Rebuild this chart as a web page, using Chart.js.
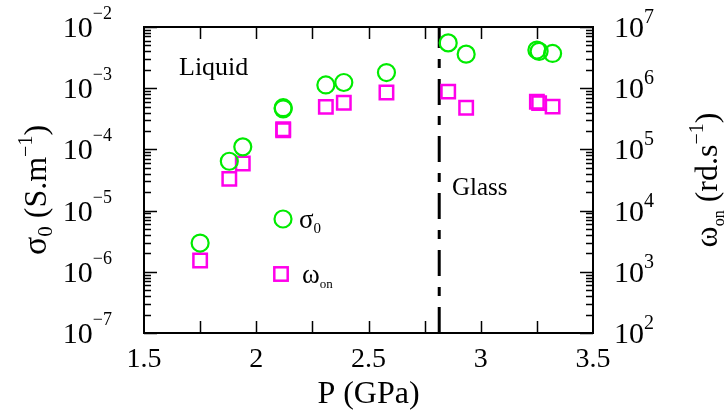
<!DOCTYPE html>
<html><head><meta charset="utf-8">
<script src="https://cdn.jsdelivr.net/npm/chart.js@4/dist/chart.umd.min.js"></script>
<style>html,body{margin:0;padding:0;background:#fff}#wrap{width:726px;height:412px;position:relative}</style>
</head><body><div id="wrap"><canvas id="c"></canvas></div>
<script>
// ---- data ----
const pressure = [1.75, 1.88, 1.94, 2.12, 2.12, 2.31, 2.39, 2.58, 2.855, 2.935, 3.25, 3.26, 3.32];
const sigma0   = [2.95e-6, 6.4e-5, 1.1e-4, 4.8e-4, 4.6e-4, 1.13e-3, 1.24e-3, 1.8e-3, 5.5e-3, 3.6e-3, 4.2e-3, 4.0e-3, 3.7e-3];
const omegaOn  = [1.53e3, 3.3e4, 5.9e4, 2.13e5, 2.05e5, 4.95e5, 5.8e5, 8.5e5, 8.8e5, 4.8e5, 6.0e5, 5.7e5, 5.0e5];
const transitionP = 2.815;
const xTickValues = [1.5, 2, 2.5, 3, 3.5];
const xTickLabels = ['1.5', '2', '2.5', '3', '3.5'];
const leftExponents = [-7, -6, -5, -4, -3, -2];
const rightExponents = [2, 3, 4, 5, 6, 7];

const GREEN = 'rgb(0,235,0)';
const MAGENTA = 'rgb(255,0,235)';
const SERIF = '"Liberation Serif", "DejaVu Serif", serif';

function runsWidth(ctx, runs) {
  let w = 0;
  for (const r of runs) { ctx.font = r.font; w += ctx.measureText(r.t).width; }
  return w;
}
function drawRuns(ctx, runs, x, y) {
  let cx = x;
  for (const r of runs) {
    ctx.font = r.font;
    ctx.fillText(r.t, cx, y + (r.dy || 0));
    cx += ctx.measureText(r.t).width;
  }
}

const decor = {
  id: 'decor',
  afterDraw(chart) {
    const ctx = chart.ctx;
    const a = chart.chartArea;
    const xs = chart.scales.x, ys = chart.scales.y, y2 = chart.scales.y2;
    ctx.save();
    ctx.strokeStyle = '#000';
    ctx.fillStyle = '#000';
    // frame
    ctx.lineWidth = 2;
    ctx.strokeRect(a.left, a.top, a.right - a.left, a.bottom - a.top);
    // x ticks every 0.25
    ctx.lineWidth = 1.5;
    ctx.beginPath();
    for (let v = 1.75; v < 3.5; v += 0.25) {
      const px = Math.round(xs.getPixelForValue(v)) + 0.5;
      ctx.moveTo(px, a.bottom); ctx.lineTo(px, a.bottom - 12);
      ctx.moveTo(px, a.top); ctx.lineTo(px, a.top + 12);
    }
    // y ticks (left)
    for (const e of leftExponents) {
      const py = Math.round(ys.getPixelForValue(Math.pow(10, e))) + 0.5;
      ctx.moveTo(a.left, py); ctx.lineTo(a.left + 13, py);
      if (e < leftExponents[leftExponents.length - 1]) {
        for (let k = 2; k <= 9; k++) {
          const pm = Math.round(ys.getPixelForValue(k * Math.pow(10, e))) + 0.5;
          ctx.moveTo(a.left, pm); ctx.lineTo(a.left + 7, pm);
        }
      }
    }
    // y2 ticks (right)
    for (const e of rightExponents) {
      const py = Math.round(y2.getPixelForValue(Math.pow(10, e))) + 0.5;
      ctx.moveTo(a.right, py); ctx.lineTo(a.right - 13, py);
      if (e < rightExponents[rightExponents.length - 1]) {
        for (let k = 2; k <= 9; k++) {
          const pm = Math.round(y2.getPixelForValue(k * Math.pow(10, e))) + 0.5;
          ctx.moveTo(a.right, pm); ctx.lineTo(a.right - 7, pm);
        }
      }
    }
    ctx.stroke();

    // x tick labels
    ctx.textBaseline = 'alphabetic';
    ctx.textAlign = 'center';
    ctx.font = '28px ' + SERIF;
    xTickValues.forEach((v, i) => {
      ctx.fillText(xTickLabels[i], xs.getPixelForValue(v), a.bottom + 34);
    });
    // left y labels
    ctx.textAlign = 'left';
    for (const e of leftExponents) {
      const py = ys.getPixelForValue(Math.pow(10, e));
      const runs = [
        { t: '10', font: '30px ' + SERIF },
        { t: '\u2212' + Math.abs(e), font: '18px ' + SERIF, dy: -18 }
      ];
      const w = runsWidth(ctx, runs);
      drawRuns(ctx, runs, a.left - 32 - w, py + 10);
    }
    // right y labels
    for (const e of rightExponents) {
      const py = y2.getPixelForValue(Math.pow(10, e));
      const runs = [
        { t: '10', font: '30px ' + SERIF },
        { t: String(e), font: '20px ' + SERIF, dy: -14 }
      ];
      drawRuns(ctx, runs, a.right + 21, py + 10);
    }
    // x title
    ctx.textAlign = 'center';
    ctx.font = '32px ' + SERIF;
    ctx.fillText('P (GPa)', (a.left + a.right) / 2 - 0, 403);
    ctx.textAlign = 'left';
    // left y title (rotated)
    {
      const runs = [
        { t: '\u03c3', font: '34px ' + SERIF },
        { t: '0', font: '21px ' + SERIF, dy: 6 },
        { t: ' (S.m', font: '32px ' + SERIF },
        { t: '\u22121', font: '20px ' + SERIF, dy: -14 },
        { t: ')', font: '32px ' + SERIF }
      ];
      const w = runsWidth(ctx, runs);
      ctx.save();
      ctx.translate(46, 190);
      ctx.rotate(-Math.PI / 2);
      drawRuns(ctx, runs, -w / 2, 0);
      ctx.restore();
    }
    // right y title (rotated)
    {
      const runs = [
        { t: '\u03c9', font: '32px ' + SERIF },
        { t: 'on', font: '16px ' + SERIF, dy: 7 },
        { t: ' (rd.s', font: '32px ' + SERIF },
        { t: '\u22121', font: '20px ' + SERIF, dy: -14 },
        { t: ')', font: '32px ' + SERIF }
      ];
      const w = runsWidth(ctx, runs);
      ctx.save();
      ctx.translate(717, 180);
      ctx.rotate(-Math.PI / 2);
      drawRuns(ctx, runs, -w / 2, 0);
      ctx.restore();
    }
    // region labels
    ctx.font = '26px ' + SERIF;
    ctx.fillText('Liquid', 179, 75);
    ctx.font = '25px ' + SERIF;
    ctx.fillText('Glass', 452, 195);

    // legend
    ctx.lineWidth = 2.2;
    ctx.strokeStyle = GREEN;
    ctx.beginPath();
    ctx.arc(283, 219, 8.5, 0, Math.PI * 2);
    ctx.stroke();
    ctx.strokeStyle = MAGENTA;
    ctx.lineWidth = 2.5;
    ctx.strokeRect(281 - 6.7, 274 - 6.7, 13.4, 13.4);
    ctx.fillStyle = '#000';
    drawRuns(ctx, [
      { t: '\u03c3', font: '27px ' + SERIF },
      { t: '0', font: '15px ' + SERIF, dy: 5 }
    ], 299, 228);
    drawRuns(ctx, [
      { t: '\u03c9', font: '27px ' + SERIF },
      { t: 'on', font: '13px ' + SERIF, dy: 5 }
    ], 302, 283);
    ctx.restore();
  }
};

new Chart(document.getElementById('c'), {
  type: 'scatter',
  data: {
    datasets: [
      {
        type: 'line',
        data: [{ x: transitionP, y: 1e-7 }, { x: transitionP, y: 1e-2 }],
        borderColor: '#000',
        borderWidth: 3,
        borderDash: [26, 11, 9, 11],
        pointRadius: 0,
        yAxisID: 'y',
        order: 3
      },
      {
        label: 'sigma0',
        data: pressure.map((p, i) => ({ x: p, y: sigma0[i] })),
        pointStyle: 'circle',
        pointRadius: 8.5,
        borderWidth: 2.2,
        borderColor: GREEN,
        backgroundColor: 'rgba(0,0,0,0)',
        yAxisID: 'y',
        order: 1
      },
      {
        label: 'omega_on',
        data: pressure.map((p, i) => ({ x: p, y: omegaOn[i] })),
        pointStyle: 'rect',
        pointRadius: 9.5,
        borderWidth: 2.5,
        borderColor: MAGENTA,
        backgroundColor: 'rgba(0,0,0,0)',
        yAxisID: 'y2',
        order: 2
      }
    ]
  },
  options: {
    responsive: true,
    maintainAspectRatio: false,
    animation: false,
    layout: { padding: { left: 144, right: 133, top: 27, bottom: 79 } },
    plugins: { legend: { display: false }, tooltip: { enabled: false } },
    scales: {
      x: { type: 'linear', min: 1.5, max: 3.5, display: false },
      y: { type: 'logarithmic', min: 1e-7, max: 1e-2, display: false },
      y2: { type: 'logarithmic', min: 1e2, max: 1e7, display: false, position: 'right' }
    }
  },
  plugins: [decor]
});
</script>
</body></html>
